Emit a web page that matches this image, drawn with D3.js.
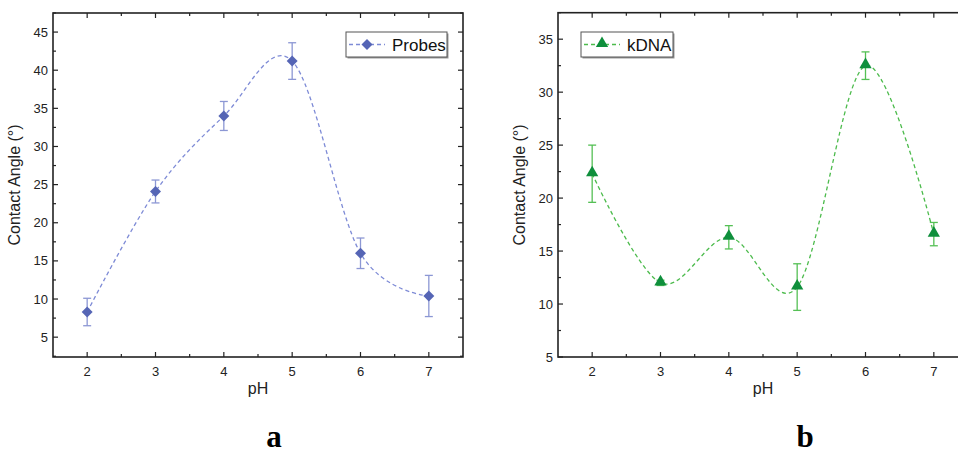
<!DOCTYPE html>
<html>
<head>
<meta charset="utf-8">
<script src="https://cdn.jsdelivr.net/npm/d3@7"></script>
<style>
  body { margin: 0; background: #fff; }
  svg { display: block; font-family: "Liberation Sans", Arial, sans-serif; }
  .tickLabel { font-size: 13px; fill: #222; }
  .axisTitle { font-size: 16px; fill: #222; }
  .panelLetter { font-family: "Liberation Serif", "Times New Roman", serif; font-weight: bold; font-size: 31px; fill: #000; }
</style>
</head>
<body>
<div id="chart"></div>
<script>
// pH values shared by both panels
const phValues = [2, 3, 4, 5, 6, 7];

// panel a: probes
const probesAngle = [8.3, 24.1, 34.0, 41.2, 16.0, 10.4];
const probesErr   = [1.8, 1.5, 1.9, 2.4, 2.0, 2.7];

// panel b: kDNA
const kdnaAngle = [22.3, 12.0, 16.3, 11.6, 32.5, 16.6];
const kdnaErr   = [2.7, 0.25, 1.1, 2.2, 1.3, 1.1];

const xTicks = [2, 3, 4, 5, 6, 7];
const yTicksA = [5, 10, 15, 20, 25, 30, 35, 40, 45];
const yTicksB = [5, 10, 15, 20, 25, 30, 35];

const svg = d3.select("#chart").append("svg")
  .attr("width", 958)
  .attr("height", 456);

function drawPanel(opts) {
  let g = svg.append("g");
  let x = d3.scaleLinear().domain([1.5, 7.5]).range([opts.left, opts.left + 410]);
  let y = d3.scaleLinear().domain(opts.yDomain).range([357, opts.top]);

  let x0 = x.range()[0], x1 = x.range()[1];
  let y0 = y.range()[0], y1 = y.range()[1];

  // frame
  g.append("rect")
    .attr("x", x0).attr("y", y1)
    .attr("width", x1 - x0).attr("height", y0 - y1)
    .attr("fill", "none").attr("stroke", "#222").attr("stroke-width", 1.6);

  // x ticks, inward on bottom and top
  let xMinor = d3.range(2.5, 7.5, 1);
  xTicks.forEach(t => {
    g.append("line").attr("x1", x(t)).attr("x2", x(t)).attr("y1", y0).attr("y2", y0 - 5).attr("stroke", "#222").attr("stroke-width", 1.2);
    g.append("line").attr("x1", x(t)).attr("x2", x(t)).attr("y1", y1).attr("y2", y1 + 5).attr("stroke", "#222").attr("stroke-width", 1.2);
    g.append("text").attr("class", "tickLabel")
      .attr("x", x(t)).attr("y", y0 + 19).attr("text-anchor", "middle").text(t);
  });
  xMinor.forEach(t => {
    g.append("line").attr("x1", x(t)).attr("x2", x(t)).attr("y1", y0).attr("y2", y0 - 3).attr("stroke", "#222").attr("stroke-width", 1.2);
    g.append("line").attr("x1", x(t)).attr("x2", x(t)).attr("y1", y1).attr("y2", y1 + 3).attr("stroke", "#222").attr("stroke-width", 1.2);
  });

  // y ticks, inward on left and right
  let yMinor = opts.yTicks.slice(0, -1).map(t => t + 2.5);
  if (opts.yDomain[0] < opts.yTicks[0] - 2.4) yMinor.unshift(opts.yTicks[0] - 2.5);
  if (opts.yDomain[1] > opts.yTicks[opts.yTicks.length - 1] + 2.4) yMinor.push(opts.yTicks[opts.yTicks.length - 1] + 2.5);
  opts.yTicks.forEach(t => {
    g.append("line").attr("x1", x0).attr("x2", x0 + 5).attr("y1", y(t)).attr("y2", y(t)).attr("stroke", "#222").attr("stroke-width", 1.2);
    g.append("line").attr("x1", x1).attr("x2", x1 - 5).attr("y1", y(t)).attr("y2", y(t)).attr("stroke", "#222").attr("stroke-width", 1.2);
    g.append("text").attr("class", "tickLabel")
      .attr("x", x0 - 5).attr("y", y(t) + 4.5).attr("text-anchor", "end").text(t);
  });
  yMinor.forEach(t => {
    g.append("line").attr("x1", x0).attr("x2", x0 + 3).attr("y1", y(t)).attr("y2", y(t)).attr("stroke", "#222").attr("stroke-width", 1.2);
    g.append("line").attr("x1", x1).attr("x2", x1 - 3).attr("y1", y(t)).attr("y2", y(t)).attr("stroke", "#222").attr("stroke-width", 1.2);
  });

  // axis titles
  g.append("text").attr("class", "axisTitle")
    .attr("x", x(4.5)).attr("y", 394).attr("text-anchor", "middle").text("pH");
  g.append("text").attr("class", "axisTitle")
    .attr("transform", `translate(${x0 - 33},${185}) rotate(-90)`)
    .attr("text-anchor", "middle").text("Contact Angle (°)");

  let data = phValues.map((p, i) => ({x: p, y: opts.values[i], e: opts.errors[i]}));

  // spline
  let line = d3.line().x(d => x(d.x)).y(d => y(d.y)).curve(d3.curveCardinal.tension(0));
  g.append("path").datum(data)
    .attr("d", line)
    .attr("fill", "none")
    .attr("stroke", opts.lineColor)
    .attr("stroke-width", 1.3)
    .attr("stroke-dasharray", "4,3");

  // error bars
  data.forEach(d => {
    let eg = g.append("g").attr("stroke", opts.errColor).attr("stroke-width", 1.3);
    eg.append("line").attr("x1", x(d.x)).attr("x2", x(d.x)).attr("y1", y(d.y - d.e)).attr("y2", y(d.y + d.e));
    eg.append("line").attr("x1", x(d.x) - 4).attr("x2", x(d.x) + 4).attr("y1", y(d.y - d.e)).attr("y2", y(d.y - d.e));
    eg.append("line").attr("x1", x(d.x) - 4).attr("x2", x(d.x) + 4).attr("y1", y(d.y + d.e)).attr("y2", y(d.y + d.e));
  });

  // markers
  let sym = d3.symbol().type(opts.symbol).size(opts.symbolSize);
  g.selectAll(null).data(data).enter().append("path")
    .attr("d", sym)
    .attr("transform", d => `translate(${x(d.x)},${y(d.y) + opts.symbolShift}) ${opts.symbolRotate}`)
    .attr("fill", opts.markColor);

  // legend
  let lg = g.append("g").attr("transform", `translate(${opts.legendX},${opts.legendY})`);
  lg.append("rect").attr("x", 1.5).attr("y", 1.5).attr("width", opts.legendW).attr("height", 25).attr("fill", "#999");
  lg.append("rect").attr("width", opts.legendW).attr("height", 25).attr("fill", "#fff").attr("stroke", "#555").attr("stroke-width", 1);
  lg.append("line").attr("x1", 3).attr("x2", 39).attr("y1", 12.5).attr("y2", 12.5)
    .attr("stroke", opts.lineColor).attr("stroke-width", 1.3).attr("stroke-dasharray", "4,3");
  lg.append("path").attr("d", sym)
    .attr("transform", `translate(21,${12.5 + opts.symbolShift}) ${opts.symbolRotate}`)
    .attr("fill", opts.markColor);
  lg.append("text").attr("x", 46).attr("y", 18.5).attr("font-size", 17).attr("fill", "#111").text(opts.name);

  // panel letter
  svg.append("text").attr("class", "panelLetter")
    .attr("x", opts.letterX).attr("y", 447).attr("text-anchor", "middle").text(opts.letter);
}

drawPanel({
  left: 53, top: 13, yDomain: [2.4, 47.5], yTicks: yTicksA,
  values: probesAngle, errors: probesErr, name: "Probes",
  lineColor: "#7e8bd6", errColor: "#8c97d4", markColor: "#5565b5",
  symbol: d3.symbolSquare, symbolSize: 60, symbolShift: 0, symbolRotate: "rotate(45)",
  legendX: 346, legendY: 32, legendW: 101, letterX: 274, letter: "a"
});

drawPanel({
  left: 558, top: 12.7, yDomain: [5, 37.5], yTicks: yTicksB,
  values: kdnaAngle, errors: kdnaErr, name: "kDNA",
  lineColor: "#4cbb4c", errColor: "#55c055", markColor: "#0f8f3c",
  symbol: d3.symbolTriangle, symbolSize: 65, symbolShift: -1, symbolRotate: "",
  legendX: 581, legendY: 32, legendW: 92, letterX: 805, letter: "b"
});
</script>
</body>
</html>
